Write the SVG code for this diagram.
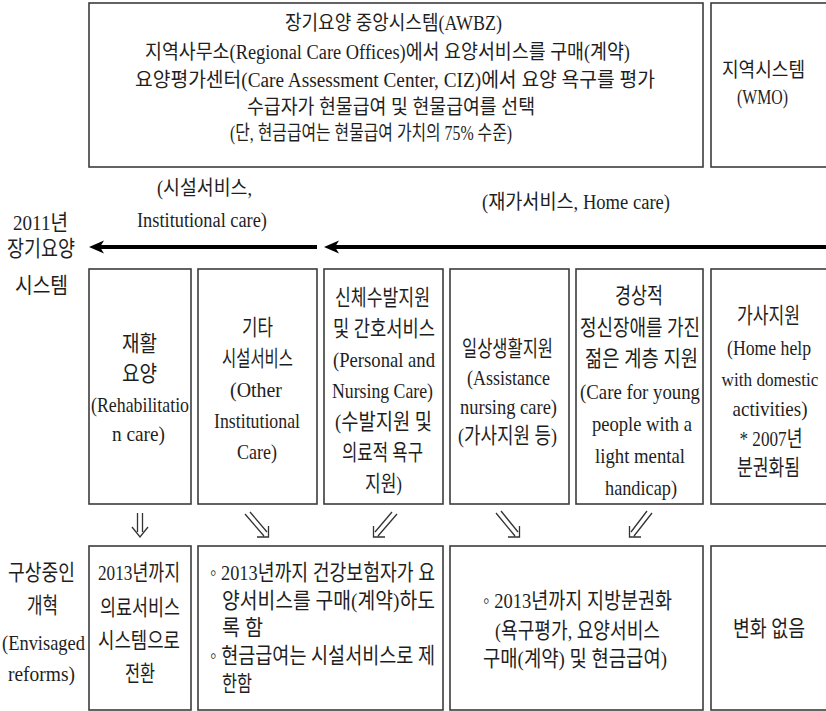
<svg xmlns="http://www.w3.org/2000/svg" width="826" height="711" viewBox="0 0 826 711">
<style>
.b{fill:#fff;stroke:#3c3c3c;stroke-width:1.6}
.t{font-family:"Liberation Serif","Noto Sans CJK KR",serif;fill:#1e1e1e;text-anchor:middle;font-size:22px}
.f20{font-size:20px}
.f18{font-size:18.5px}
.s{text-anchor:start}
.ar{stroke:#000;stroke-width:3.8;fill:none}
.ah{fill:#000;stroke:none}
.da{stroke:#333;stroke-width:1.3;fill:none}
</style>
<rect width="826" height="711" fill="#fff"/>

<g id="central-system">
<rect class="b" x="89" y="3" width="614" height="164"/>
<text class="t f20" x="393.5" y="30" textLength="217" lengthAdjust="spacingAndGlyphs">장기요양 중앙시스템(AWBZ)</text>
<text class="t f20" x="387.5" y="59" textLength="485" lengthAdjust="spacingAndGlyphs">지역사무소(Regional Care Offices)에서 요양서비스를 구매(계약)</text>
<text class="t f20" x="395" y="87" textLength="520" lengthAdjust="spacingAndGlyphs">요양평가센터(Care Assessment Center, CIZ)에서 요양 욕구를 평가</text>
<text class="t f20" x="391" y="114" textLength="288" lengthAdjust="spacingAndGlyphs">수급자가 현물급여 및 현물급여를 선택</text>
<text class="t f20" x="371" y="140" textLength="282" lengthAdjust="spacingAndGlyphs">(단, 현금급여는 현물급여 가치의 75% 수준)</text>
</g>

<g id="local-system">
<rect class="b" x="711" y="3" width="120" height="164"/>
<text class="t f20" x="763.5" y="77" textLength="83" lengthAdjust="spacingAndGlyphs">지역시스템</text>
<text class="t f20" x="762.5" y="104" textLength="51" lengthAdjust="spacingAndGlyphs">(WMO)</text>
</g>

<g id="labels">
<text class="t" x="40.5" y="230" textLength="55" lengthAdjust="spacingAndGlyphs">2011년</text>
<text class="t" x="41" y="256" textLength="68" lengthAdjust="spacingAndGlyphs">장기요양</text>
<text class="t" x="41.5" y="293" textLength="53" lengthAdjust="spacingAndGlyphs">시스템</text>
<text class="t f20" x="204.5" y="195" textLength="95" lengthAdjust="spacingAndGlyphs">(시설서비스,</text>
<text class="t f20" x="202" y="227" textLength="130" lengthAdjust="spacingAndGlyphs">Institutional care)</text>
<text class="t f20" x="576" y="209" textLength="188" lengthAdjust="spacingAndGlyphs">(재가서비스, Home care)</text>
<text class="t" x="41.5" y="580" textLength="67" lengthAdjust="spacingAndGlyphs">구상중인</text>
<text class="t" x="42.5" y="613" textLength="31" lengthAdjust="spacingAndGlyphs">개혁</text>
<text class="t" x="43.5" y="650" textLength="83" lengthAdjust="spacingAndGlyphs">(Envisaged</text>
<text class="t" x="41.5" y="681" textLength="67" lengthAdjust="spacingAndGlyphs">reforms)</text>
</g>

<g id="rehab">
<rect class="b" x="89" y="269" width="102" height="235"/>
<text class="t" x="139.5" y="351" textLength="35" lengthAdjust="spacingAndGlyphs">재활</text>
<text class="t" x="139.5" y="381" textLength="35" lengthAdjust="spacingAndGlyphs">요양</text>
<text class="t" x="140" y="412" textLength="98" lengthAdjust="spacingAndGlyphs">(Rehabilitatio</text>
<text class="t" x="138.5" y="441" textLength="53" lengthAdjust="spacingAndGlyphs">n care)</text>
</g>

<g id="other-institutional">
<rect class="b" x="198" y="269" width="119" height="235"/>
<text class="t" x="257.5" y="335" textLength="31" lengthAdjust="spacingAndGlyphs">기타</text>
<text class="t" x="257.5" y="366" textLength="71" lengthAdjust="spacingAndGlyphs">시설서비스</text>
<text class="t" x="256" y="397" textLength="52" lengthAdjust="spacingAndGlyphs">(Other</text>
<text class="t" x="257" y="428" textLength="86" lengthAdjust="spacingAndGlyphs">Institutional</text>
<text class="t" x="257" y="459" textLength="40" lengthAdjust="spacingAndGlyphs">Care)</text>
</g>

<g id="personal-nursing">
<rect class="b" x="324" y="269" width="119" height="235"/>
<text class="t" x="382.5" y="305" textLength="95" lengthAdjust="spacingAndGlyphs">신체수발지원</text>
<text class="t" x="384" y="336" textLength="102" lengthAdjust="spacingAndGlyphs">및 간호서비스</text>
<text class="t" x="384" y="367" textLength="102" lengthAdjust="spacingAndGlyphs">(Personal and</text>
<text class="t" x="382.5" y="398" textLength="101" lengthAdjust="spacingAndGlyphs">Nursing Care)</text>
<text class="t" x="383.5" y="429" textLength="97" lengthAdjust="spacingAndGlyphs">(수발지원 및</text>
<text class="t" x="382.5" y="460" textLength="81" lengthAdjust="spacingAndGlyphs">의료적 욕구</text>
<text class="t" x="383.5" y="491" textLength="37" lengthAdjust="spacingAndGlyphs">지원)</text>
</g>

<g id="daily-living">
<rect class="b" x="450" y="269" width="119" height="235"/>
<text class="t" x="507.5" y="356" textLength="91" lengthAdjust="spacingAndGlyphs">일상생활지원</text>
<text class="t" x="508.5" y="385" textLength="83" lengthAdjust="spacingAndGlyphs">(Assistance</text>
<text class="t" x="508.5" y="414" textLength="97" lengthAdjust="spacingAndGlyphs">nursing care)</text>
<text class="t" x="507.5" y="443" textLength="99" lengthAdjust="spacingAndGlyphs">(가사지원 등)</text>
</g>

<g id="young-people">
<rect class="b" x="576" y="269" width="127" height="235"/>
<text class="t" x="639" y="303" textLength="48" lengthAdjust="spacingAndGlyphs">경상적</text>
<text class="t" x="640" y="335" textLength="120" lengthAdjust="spacingAndGlyphs">정신장애를 가진</text>
<text class="t" x="641.5" y="366" textLength="113" lengthAdjust="spacingAndGlyphs">젊은 계층 지원</text>
<text class="t" x="640" y="399" textLength="120" lengthAdjust="spacingAndGlyphs">(Care for young</text>
<text class="t" x="642" y="431" textLength="100" lengthAdjust="spacingAndGlyphs">people with a</text>
<text class="t" x="640" y="463" textLength="90" lengthAdjust="spacingAndGlyphs">light mental</text>
<text class="t" x="641" y="495" textLength="72" lengthAdjust="spacingAndGlyphs">handicap)</text>
</g>

<g id="home-help">
<rect class="b" x="711" y="269" width="120" height="235"/>
<text class="t" x="768.5" y="323" textLength="63" lengthAdjust="spacingAndGlyphs">가사지원</text>
<text class="t f20" x="769" y="355" textLength="84" lengthAdjust="spacingAndGlyphs">(Home help</text>
<text class="t f18" x="770" y="386" textLength="97" lengthAdjust="spacingAndGlyphs">with domestic</text>
<text class="t" x="770" y="416" textLength="75" lengthAdjust="spacingAndGlyphs">activities)</text>
<text class="t" x="771" y="446" textLength="63" lengthAdjust="spacingAndGlyphs">* 2007년</text>
<text class="t" x="768.5" y="475" textLength="63" lengthAdjust="spacingAndGlyphs">분권화됨</text>
</g>

<g id="reform-medical">
<rect class="b" x="89" y="546" width="102" height="164"/>
<text class="t" x="139" y="580" textLength="82" lengthAdjust="spacingAndGlyphs">2013년까지</text>
<text class="t" x="140" y="615" textLength="80" lengthAdjust="spacingAndGlyphs">의료서비스</text>
<text class="t" x="139" y="648" textLength="82" lengthAdjust="spacingAndGlyphs">시스템으로</text>
<text class="t" x="140" y="681" textLength="30" lengthAdjust="spacingAndGlyphs">전환</text>
</g>

<g id="reform-insurer">
<rect class="b" x="198" y="546" width="245" height="164"/>
<text class="t s" x="210" y="580" textLength="225" lengthAdjust="spacingAndGlyphs">◦ 2013년까지 건강보험자가 요</text>
<text class="t s" x="222" y="608" textLength="213" lengthAdjust="spacingAndGlyphs">양서비스를  구매(계약)하도</text>
<text class="t s" x="222" y="635" textLength="41" lengthAdjust="spacingAndGlyphs">록 함</text>
<text class="t s" x="210" y="663" textLength="225" lengthAdjust="spacingAndGlyphs">◦ 현금급여는 시설서비스로 제</text>
<text class="t s" x="222" y="691" textLength="30" lengthAdjust="spacingAndGlyphs">한함</text>
</g>

<g id="reform-decentral">
<rect class="b" x="450" y="546" width="253" height="164"/>
<text class="t" x="577.5" y="608" textLength="189" lengthAdjust="spacingAndGlyphs">◦ 2013년까지 지방분권화</text>
<text class="t" x="577.5" y="638" textLength="165" lengthAdjust="spacingAndGlyphs">(욕구평가, 요양서비스</text>
<text class="t" x="575" y="666" textLength="184" lengthAdjust="spacingAndGlyphs">구매(계약) 및 현금급여)</text>
</g>

<g id="no-change">
<rect class="b" x="711" y="546" width="120" height="164"/>
<text class="t" x="769" y="636" textLength="72" lengthAdjust="spacingAndGlyphs">변화 없음</text>
</g>

<g id="connectors">
<line class="ar" x1="317" y1="247" x2="98" y2="247"/>
<path class="ah" d="M89,247 L104,240.5 L100,247 L104,253.5 Z"/>
<line class="ar" x1="830" y1="247" x2="333" y2="247"/>
<path class="ah" d="M324,247 L339,240.5 L335,247 L339,253.5 Z"/>
<path class="da" d="M137.5,513 V532 M142.5,513 V532 M132,527 L140,537 L148,527"/>
<path class="da" d="M245,514 L264,536 M250,512 L267,532 M257,537 H268.5 V526"/>
<path class="da" d="M397,514 L378,536 M392,512 L375,532 M385,537 H373.5 V526"/>
<path class="da" d="M496,513 L515,536 M501,511 L518,532 M508,537 H519.5 V526"/>
<path class="da" d="M652,513 L634,536 M647,511 L631,532 M641,537 H629.5 V526"/>
</g>
</svg>
